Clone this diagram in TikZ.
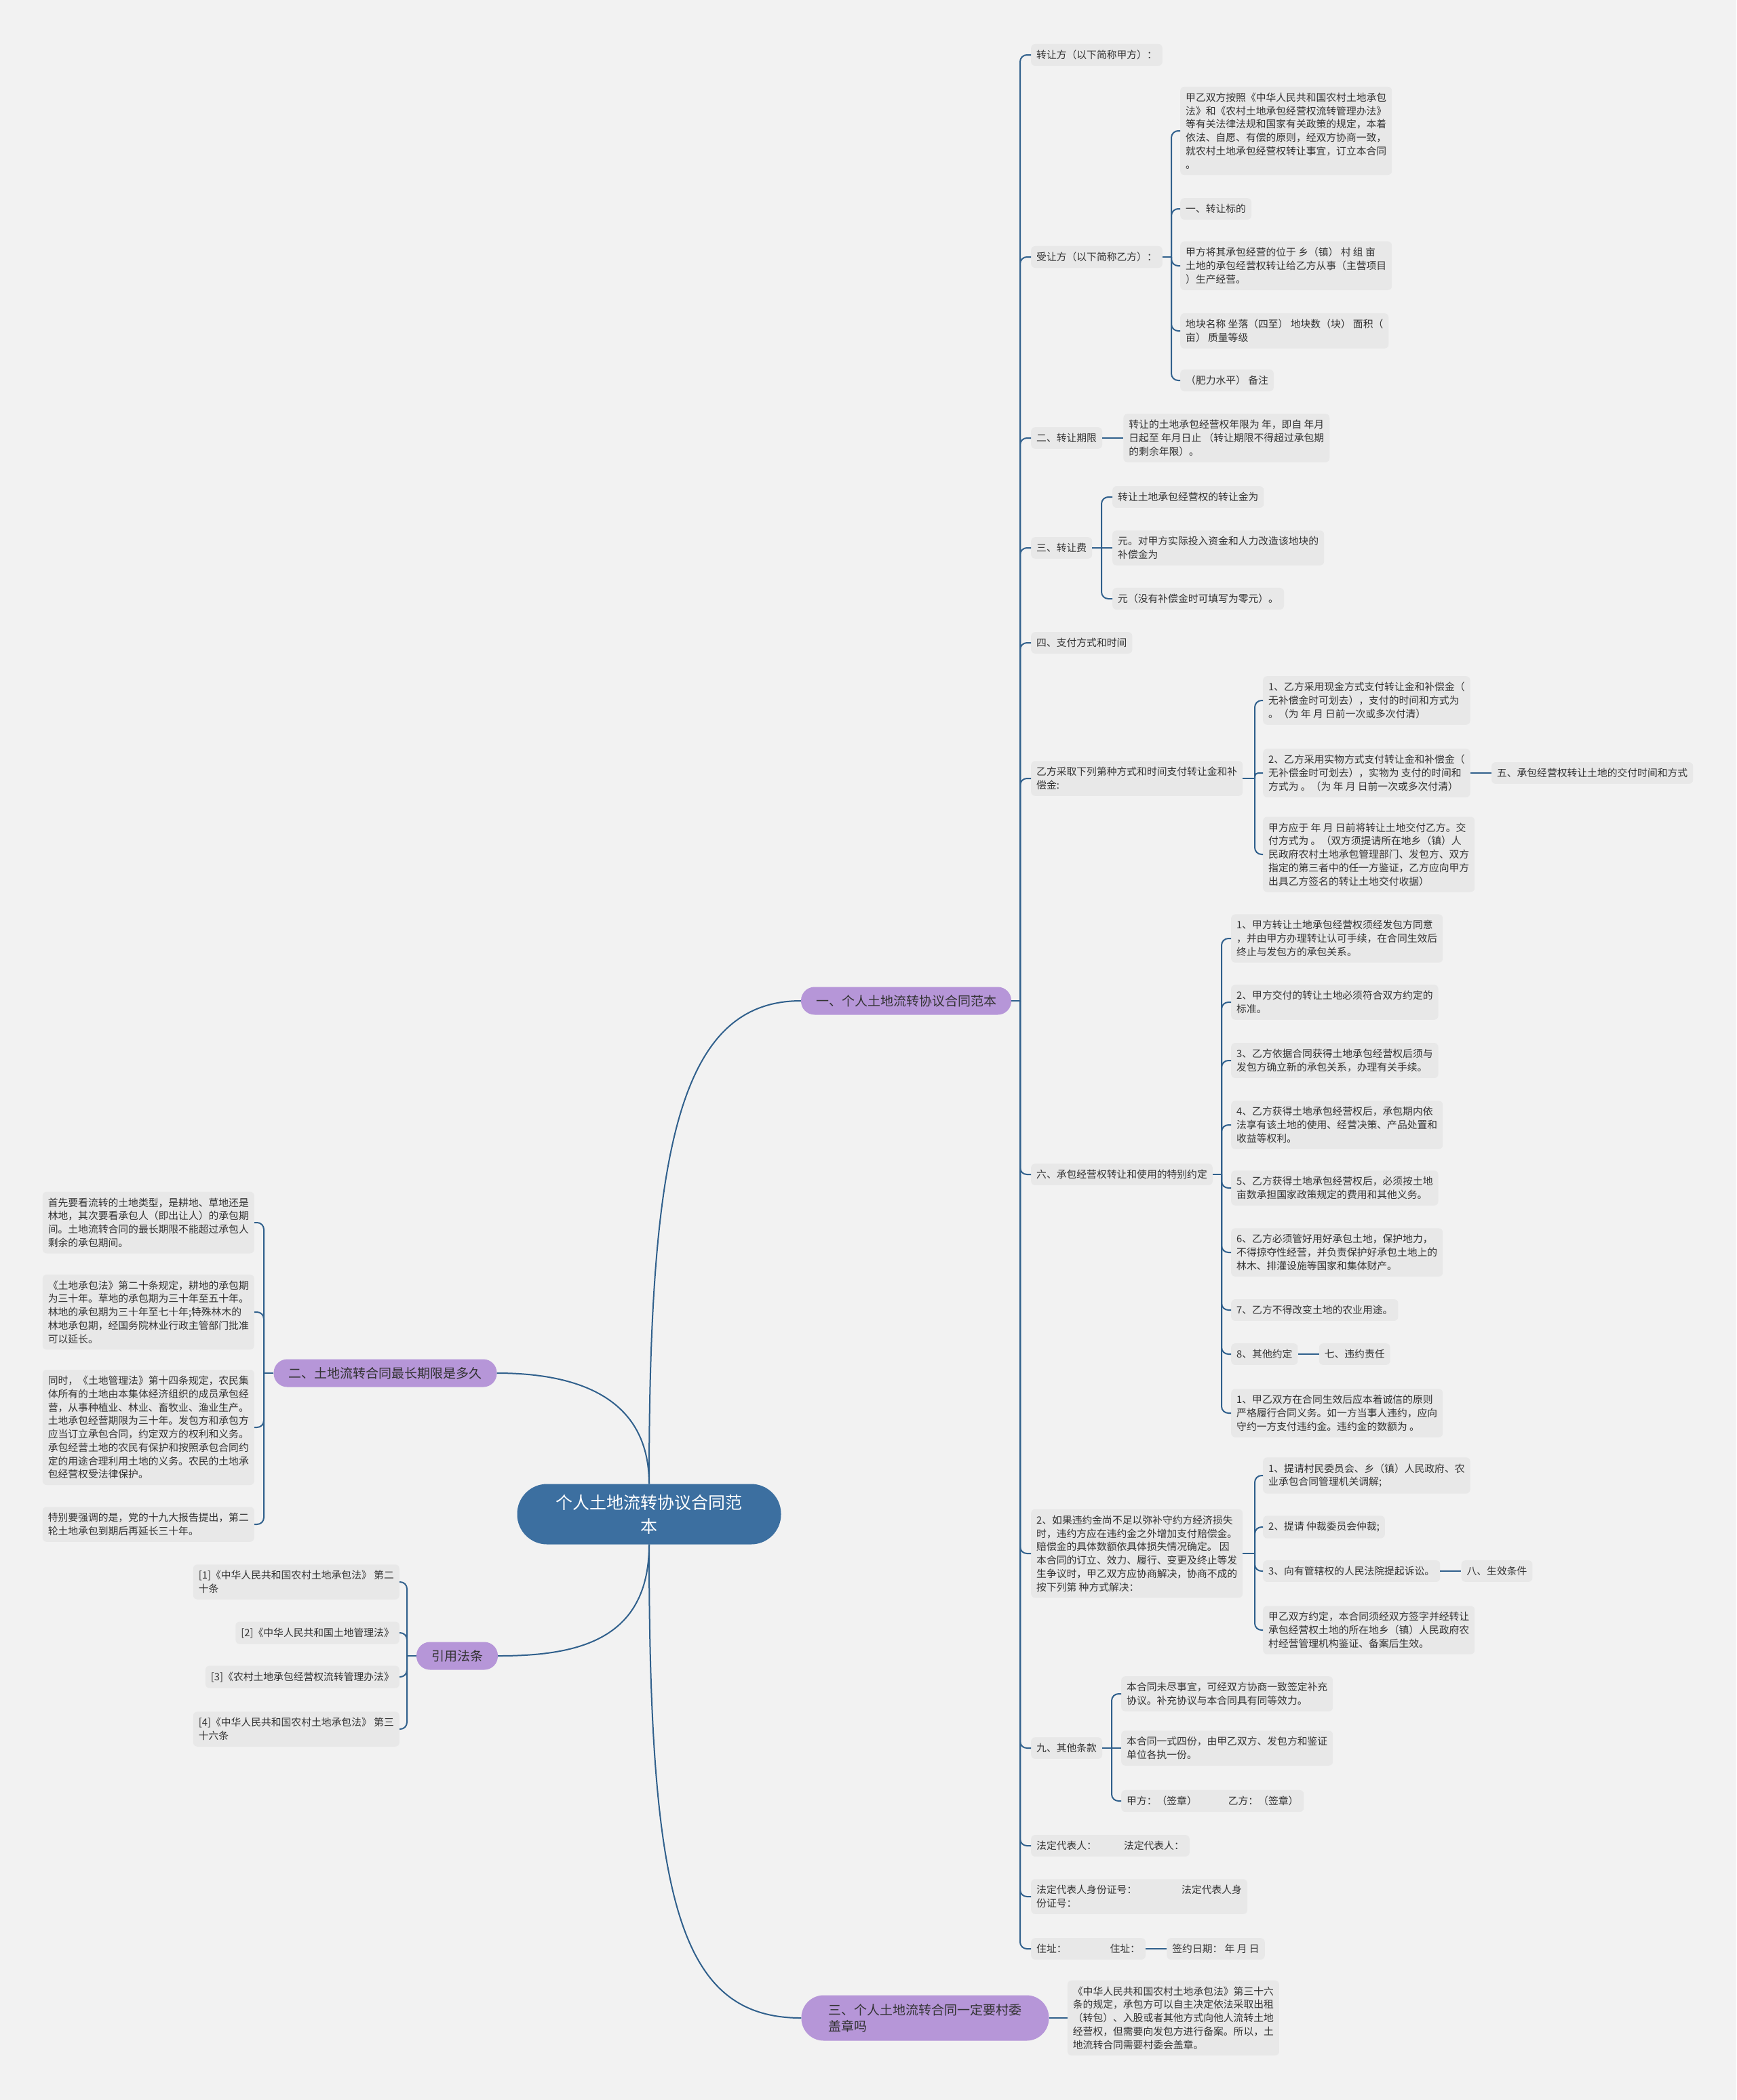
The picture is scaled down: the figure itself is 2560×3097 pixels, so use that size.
\documentclass[tikz,border=0pt]{standalone}
\usepackage{fontspec}
\newfontfamily\cjk{Noto Sans CJK SC}
\usepackage{xcolor}
\usepackage{tikz}
\usetikzlibrary{positioning}
\definecolor{paper}{HTML}{F2F2F2}
\definecolor{leafgray}{HTML}{E8E8E8}
\definecolor{ink}{HTML}{333333}
\definecolor{linkblue}{HTML}{30608C}
\definecolor{rootblue}{HTML}{3C6FA0}
\definecolor{topicpurple}{HTML}{B696D8}
\tikzset{
  root/.style={rectangle, fill=rootblue, text=white, font=\cjk\fontsize{25}{35}\selectfont, align=center, inner xsep=57pt, minimum height=89pt, rounded corners=44pt},
  topic/.style={rectangle, fill=topicpurple, text=ink, font=\cjk\fontsize{19}{24}\selectfont, align=left, inner xsep=22pt, minimum height=41pt, rounded corners=20pt},
  leaf/.style={rectangle, fill=leafgray, text=ink, font=\cjk\fontsize{14.8}{19.75}\selectfont, align=left, inner xsep=8pt, inner ysep=9pt, rounded corners=6pt},
  link/.style={draw=linkblue, line width=2pt},
  fork/.style={link, rounded corners=10pt}
}

\begin{document}
\begin{tikzpicture}[x=1pt, y=-1pt, node distance=31pt]
  \fill[paper] (0,0) rectangle (2560,3097);
  \useasboundingbox (0,0) rectangle (2560,3097);

  \node[root] (c) at (957,2233) {个人土地流转协议合同范\\本};
  \node[topic] (b1) at (1336,1476) {一、个人土地流转协议合同范本};
  \node[topic] (b2) at (568,2025) {二、土地流转合同最长期限是多久};
  \node[topic] (b4) at (674,2442) {引用法条};
  \node[topic, minimum height=67pt, inner xsep=40pt, rounded corners=33pt] (b3) at (1364,2976) {三、个人土地流转合同一定要村委\\盖章吗};

  \node[leaf, anchor=west] (k1) at (1520,81) {转让方（以下简称甲方）：};
  \node[leaf, anchor=west] (k2) at (1520,379) {受让方（以下简称乙方）：};
  \node[leaf, anchor=west] (s1) at (1740,193) {甲乙双方按照《中华人民共和国农村土地承包\\法》和《农村土地承包经营权流转管理办法》\\等有关法律法规和国家有关政策的规定，本着\\依法、自愿、有偿的原则，经双方协商一致，\\就农村土地承包经营权转让事宜，订立本合同\\。};
  \node[leaf, anchor=west] (s2) at (1740,308) {一、转让标的};
  \node[leaf, anchor=west] (s3) at (1740,392) {甲方将其承包经营的位于 乡（镇） 村 组 亩\\土地的承包经营权转让给乙方从事（主营项目\\）生产经营。};
  \node[leaf, anchor=west] (s4) at (1740,488) {地块名称 坐落（四至） 地块数（块） 面积（\\亩） 质量等级};
  \node[leaf, anchor=west] (s5) at (1740,561) {（肥力水平） 备注};
  \node[leaf, anchor=west] (k3) at (1520,646) {二、转让期限};
  \node[leaf, right=of k3] (q1) {转让的土地承包经营权年限为 年，即自 年月\\日起至 年月日止 （转让期限不得超过承包期\\的剩余年限）。};
  \node[leaf, anchor=west] (k4) at (1520,808) {三、转让费};
  \node[leaf, anchor=west] (f1) at (1640,733) {转让土地承包经营权的转让金为};
  \node[leaf, anchor=west] (f2) at (1640,808) {元。对甲方实际投入资金和人力改造该地块的\\补偿金为};
  \node[leaf, anchor=west] (f3) at (1640,883) {元（没有补偿金时可填写为零元）。};
  \node[leaf, anchor=west] (k5) at (1520,948) {四、支付方式和时间};
  \node[leaf, anchor=west] (k6) at (1520,1148) {乙方采取下列第种方式和时间支付转让金和补\\偿金:};
  \node[leaf, anchor=west] (p1) at (1862,1033) {1、乙方采用现金方式支付转让金和补偿金（\\无补偿金时可划去），支付的时间和方式为\\。（为 年 月 日前一次或多次付清）};
  \node[leaf, anchor=west] (p2) at (1862,1140) {2、乙方采用实物方式支付转让金和补偿金（\\无补偿金时可划去），实物为 支付的时间和\\方式为 。（为 年 月 日前一次或多次付清）};
  \node[leaf, right=of p2] (p2a) {五、承包经营权转让土地的交付时间和方式};
  \node[leaf, anchor=west] (p3) at (1862,1260) {甲方应于 年 月 日前将转让土地交付乙方。交\\付方式为 。（双方须提请所在地乡（镇）人\\民政府农村土地承包管理部门、发包方、双方\\指定的第三者中的任一方鉴证，乙方应向甲方\\出具乙方签名的转让土地交付收据）};
  \node[leaf, anchor=west] (k7) at (1520,1732) {六、承包经营权转让和使用的特别约定};
  \node[leaf, anchor=west] (t1) at (1815,1384) {1、甲方转让土地承包经营权须经发包方同意\\，并由甲方办理转让认可手续，在合同生效后\\终止与发包方的承包关系。};
  \node[leaf, anchor=west] (t2) at (1815,1478) {2、甲方交付的转让土地必须符合双方约定的\\标准。};
  \node[leaf, anchor=west] (t3) at (1815,1564) {3、乙方依据合同获得土地承包经营权后须与\\发包方确立新的承包关系，办理有关手续。};
  \node[leaf, anchor=west] (t4) at (1815,1659) {4、乙方获得土地承包经营权后，承包期内依\\法享有该土地的使用、经营决策、产品处置和\\收益等权利。};
  \node[leaf, anchor=west] (t5) at (1815,1752) {5、乙方获得土地承包经营权后，必须按土地\\亩数承担国家政策规定的费用和其他义务。};
  \node[leaf, anchor=west] (t6) at (1815,1847) {6、乙方必须管好用好承包土地，保护地力，\\不得掠夺性经营，并负责保护好承包土地上的\\林木、排灌设施等国家和集体财产。};
  \node[leaf, anchor=west] (t7) at (1815,1932) {7、乙方不得改变土地的农业用途。};
  \node[leaf, anchor=west] (t8) at (1815,1997) {8、其他约定};
  \node[leaf, right=of t8] (t8a) {七、违约责任};
  \node[leaf, anchor=west] (t9) at (1815,2084) {1、甲乙双方在合同生效后应本着诚信的原则\\严格履行合同义务。如一方当事人违约，应向\\守约一方支付违约金。违约金的数额为 。};
  \node[leaf, anchor=west] (k8) at (1520,2291) {2、如果违约金尚不足以弥补守约方经济损失\\时，违约方应在违约金之外增加支付赔偿金。\\赔偿金的具体数额依具体损失情况确定。 因\\本合同的订立、效力、履行、变更及终止等发\\生争议时，甲乙双方应协商解决，协商不成的\\按下列第 种方式解决：};
  \node[leaf, anchor=west] (w1) at (1862,2176) {1、提请村民委员会、乡（镇）人民政府、农\\业承包合同管理机关调解;};
  \node[leaf, anchor=west] (w2) at (1862,2252) {2、提请 仲裁委员会仲裁;};
  \node[leaf, anchor=west] (w3) at (1862,2317) {3、向有管辖权的人民法院提起诉讼。};
  \node[leaf, right=of w3] (w3a) {八、生效条件};
  \node[leaf, anchor=west] (w4) at (1862,2404) {甲乙双方约定，本合同须经双方签字并经转让\\承包经营权土地的所在地乡（镇）人民政府农\\村经营管理机构鉴证、备案后生效。};
  \node[leaf, anchor=west] (k9) at (1520,2578) {九、其他条款};
  \node[leaf, anchor=west] (o1) at (1653,2498) {本合同未尽事宜，可经双方协商一致签定补充\\协议。补充协议与本合同具有同等效力。};
  \node[leaf, anchor=west] (o2) at (1653,2578) {本合同一式四份，由甲乙双方、发包方和鉴证\\单位各执一份。};
  \node[leaf, anchor=west] (o3) at (1653,2656) {甲方：（签章）\hspace{46pt}乙方：（签章）};
  \node[leaf, anchor=west] (k10) at (1520,2722) {法定代表人：\hspace{40pt}法定代表人：};
  \node[leaf, anchor=west] (k11) at (1520,2797) {法定代表人身份证号：\hspace{66pt}法定代表人身\\份证号：};
  \node[leaf, anchor=west] (k12) at (1520,2874) {住址：\hspace{64pt}住址：};
  \node[leaf, right=of k12] (k12a) {签约日期：~年~月~日};

  \node[leaf, anchor=east] (l1) at (375,1803) {首先要看流转的土地类型，是耕地、草地还是\\林地，其次要看承包人（即出让人）的承包期\\间。土地流转合同的最长期限不能超过承包人\\剩余的承包期间。};
  \node[leaf, anchor=east] (l2) at (375,1935) {《土地承包法》第二十条规定，耕地的承包期\\为三十年。草地的承包期为三十年至五十年。\\林地的承包期为三十年至七十年;特殊林木的\\林地承包期，经国务院林业行政主管部门批准\\可以延长。};
  \node[leaf, anchor=east] (l3) at (375,2105) {同时，《土地管理法》第十四条规定，农民集\\体所有的土地由本集体经济组织的成员承包经\\营，从事种植业、林业、畜牧业、渔业生产。\\土地承包经营期限为三十年。发包方和承包方\\应当订立承包合同，约定双方的权利和义务。\\承包经营土地的农民有保护和按照承包合同约\\定的用途合理利用土地的义务。农民的土地承\\包经营权受法律保护。};
  \node[leaf, anchor=east] (l4) at (375,2248) {特别要强调的是，党的十九大报告提出，第二\\轮土地承包到期后再延长三十年。};

  \node[leaf, anchor=east] (g1) at (589,2333) {[1]《中华人民共和国农村土地承包法》 第二\\十条};
  \node[leaf, anchor=east] (g2) at (589,2408) {[2]《中华人民共和国土地管理法》};
  \node[leaf, anchor=east] (g3) at (589,2473) {[3]《农村土地承包经营权流转管理办法》};
  \node[leaf, anchor=east] (g4) at (589,2550) {[4]《中华人民共和国农村土地承包法》 第三\\十六条};

  \node[leaf, right=27pt of b3] (m1) {《中华人民共和国农村土地承包法》第三十六\\条的规定，承包方可以自主决定依法采取出租\\（转包）、入股或者其他方式向他人流转土地\\经营权，但需要向发包方进行备案。所以，土\\地流转合同需要村委会盖章。};

  \draw[link] (c.north) .. controls (957,1700) and (1000,1476) .. (b1.west);
  \draw[link] (c.north) .. controls (957,2060) and (850,2025) .. (b2.east);
  \draw[link] (c.south) .. controls (957,2420) and (850,2442) .. (b4.east);
  \draw[link] (c.south) .. controls (957,2800) and (1000,2976) .. (b3.west);

  \coordinate (r1) at (1504,1476);
  \draw[link] (b1.east) -- (r1);
  \draw[fork] (r1) |- (k1.west);
  \draw[fork] (r1) |- (k2.west);
  \draw[fork] (r1) |- (k3.west);
  \draw[fork] (r1) |- (k4.west);
  \draw[fork] (r1) |- (k5.west);
  \draw[fork] (r1) |- (k6.west);
  \draw[fork] (r1) |- (k7.west);
  \draw[fork] (r1) |- (k8.west);
  \draw[fork] (r1) |- (k9.west);
  \draw[fork] (r1) |- (k10.west);
  \draw[fork] (r1) |- (k11.west);
  \draw[fork] (r1) |- (k12.west);

  \coordinate (j2) at (1727,379);
  \draw[link] (k2.east) -- (j2);
  \draw[fork] (j2) |- (s1.west);
  \draw[fork] (j2) |- (s2.west);
  \draw[fork] (j2) |- (s3.west);
  \draw[fork] (j2) |- (s4.west);
  \draw[fork] (j2) |- (s5.west);

  \draw[link] (k3) -- (q1);

  \coordinate (j4) at (1624,808);
  \draw[link] (k4.east) -- (j4);
  \draw[fork] (j4) |- (f1.west);
  \draw[link] (j4) -- (f2.west);
  \draw[fork] (j4) |- (f3.west);

  \coordinate (j6) at (1850,1148);
  \draw[link] (k6.east) -- (j6);
  \draw[fork] (j6) |- (p1.west);
  \draw[fork, rounded corners=5pt] (j6) |- (p2.west);
  \draw[fork] (j6) |- (p3.west);
  \draw[link] (p2) -- (p2a);

  \coordinate (j7) at (1801,1732);
  \draw[link] (k7.east) -- (j7);
  \draw[fork] (j7) |- (t1.west);
  \draw[fork] (j7) |- (t2.west);
  \draw[fork] (j7) |- (t3.west);
  \draw[fork] (j7) |- (t4.west);
  \draw[fork] (j7) |- (t5.west);
  \draw[fork] (j7) |- (t6.west);
  \draw[fork] (j7) |- (t7.west);
  \draw[fork] (j7) |- (t8.west);
  \draw[fork] (j7) |- (t9.west);
  \draw[link] (t8) -- (t8a);

  \coordinate (j8) at (1850,2291);
  \draw[link] (k8.east) -- (j8);
  \draw[fork] (j8) |- (w1.west);
  \draw[fork] (j8) |- (w2.west);
  \draw[fork] (j8) |- (w3.west);
  \draw[fork] (j8) |- (w4.west);
  \draw[link] (w3) -- (w3a);

  \coordinate (j9) at (1639,2578);
  \draw[link] (k9.east) -- (j9);
  \draw[fork] (j9) |- (o1.west);
  \draw[link] (j9) -- (o2.west);
  \draw[fork] (j9) |- (o3.west);

  \draw[link] (k12) -- (k12a);

  \coordinate (jl) at (389,2025);
  \draw[link] (b2.west) -- (jl);
  \draw[fork] (jl) |- (l1.east);
  \draw[fork] (jl) |- (l2.east);
  \draw[fork] (jl) |- (l3.east);
  \draw[fork] (jl) |- (l4.east);

  \coordinate (jg) at (600,2442);
  \draw[link] (b4.west) -- (jg);
  \draw[fork] (jg) |- (g1.east);
  \draw[fork] (jg) |- (g2.east);
  \draw[fork] (jg) |- (g3.east);
  \draw[fork] (jg) |- (g4.east);

  \draw[link] (b3) -- (m1);
\end{tikzpicture}
\end{document}
